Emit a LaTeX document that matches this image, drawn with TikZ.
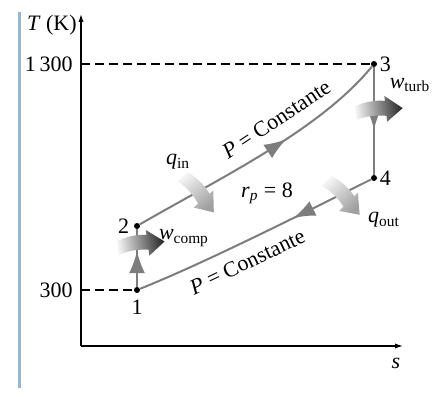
\documentclass[tikz,border=0pt]{standalone}
\usepackage{fontspec}
\setmainfont{Liberation Serif}
\usetikzlibrary{arrows.meta,decorations.markings,positioning}

\definecolor{barblue}{RGB}{150,182,212}
\definecolor{cyclegray}{RGB}{125,125,125}

\begin{document}
\begin{tikzpicture}[
  x=0.5pt,y=-0.5pt,
  font=\fontsize{11}{13}\selectfont,
  dot/.style={circle,fill=black,inner sep=0pt,minimum size=3pt},
  num/.style={inner sep=1pt},
  axis/.style={line width=.6pt,-{Latex[length=4pt,width=2.6pt]}},
  level/.style={line width=.6pt,dash pattern=on 4.5pt off 2.5pt},
  process/.style={cyclegray,line width=1pt},
  fwd/.style={postaction={decorate},decoration={markings,
    mark=at position #1 with {\arrow{Latex[length=11pt,width=8pt]}}}},
  bwd/.style={postaction={decorate},decoration={markings,
    mark=at position #1 with {\arrowreversed{Latex[length=11pt,width=8pt]}}}},
  pics/fatarrow/.style 2 args={code={
    \shade[top color=gray!10,bottom color=#2,shading angle=#1]
      (0,-7) .. controls (10,-10) and (20,-11) .. (30,-9) -- (30,-14)
      -- (47,0) -- (30,12) -- (30,6) .. controls (20,4) and (10,4) .. (0,7) -- cycle;
  }}
]
  \useasboundingbox (0,0) rectangle (440,394);
  \fill[barblue] (18,12) rectangle (21,388);

  % axes
  \coordinate (O) at (81,346);
  \coordinate (ytop) at (81,14);
  \coordinate (xend) at (403,346);
  \draw[axis] (O) -- (ytop);
  \draw[axis] (O) -- (xend);
  \node[anchor=east,inner sep=1pt] (tlab) at (79,25) {\textit{T} (K)};
  \node (slab) at (396,363) {\textit{s}};

  % states
  \node[dot] (p1) at (137,290) {};
  \node[dot] (p2) at (137,226) {};
  \node[dot] (p3) at (374,64) {};
  \node[dot] (p4) at (374,178) {};
  \node[num,below=2pt of p1] (n1) {1};
  \node[num,left=1pt of p2] (n2) {2};
  \node[num,right=0pt of p3] (n3) {3};
  \node[num,right=0pt of p4] (n4) {4};

  % temperature levels
  \coordinate (thigh) at (81,64);
  \coordinate (tlow) at (81,290);
  \draw[level] (thigh) -- (p3);
  \draw[level] (tlow) -- (p1);
  \node[anchor=east,inner sep=1pt] (vhigh) at (75,64) {1\,300};
  \node[anchor=east,inner sep=1pt] (vlow) at (75,290) {300};

  % cycle
  \draw[process,fwd=.62] (p1) -- (p2);
  \draw[process,fwd=.6] (p2) .. controls (220,178) and (320,130) .. (p3)
    node[pos=.59,sloped,above=3.5pt,text=black] (pupper) {\textit{P} = Constante};
  \draw[process,fwd=.58] (p3) -- (p4);
  \draw[process,bwd=.66] (p1) .. controls (200,265) and (300,215) .. (p4)
    node[pos=.45,sloped,below=2pt,text=black] (plower) {\textit{P} = Constante};

  % heat and work
  \pic[rotate=8] at (118,248) {fatarrow={98}{gray!30!black}};
  \pic[rotate=6] at (356,113) {fatarrow={96}{gray!30!black}};
  \pic[rotate=-49] at (183,177) {fatarrow={41}{gray!75}};
  \pic[rotate=-46] at (327,181) {fatarrow={44}{gray!75}};
  \node (wcomp) at (184,238) {\textit{w}\textsubscript{comp}};
  \node (wturb) at (410,85) {\textit{w}\textsubscript{turb}};
  \node (qin) at (178,162) {\textit{q}\textsubscript{in}};
  \node (qout) at (384,220) {\textit{q}\textsubscript{out}};
  \node (rp) at (267,193) {\textit{r}\textsubscript{\textit{p}} = 8};
\end{tikzpicture}
\end{document}
